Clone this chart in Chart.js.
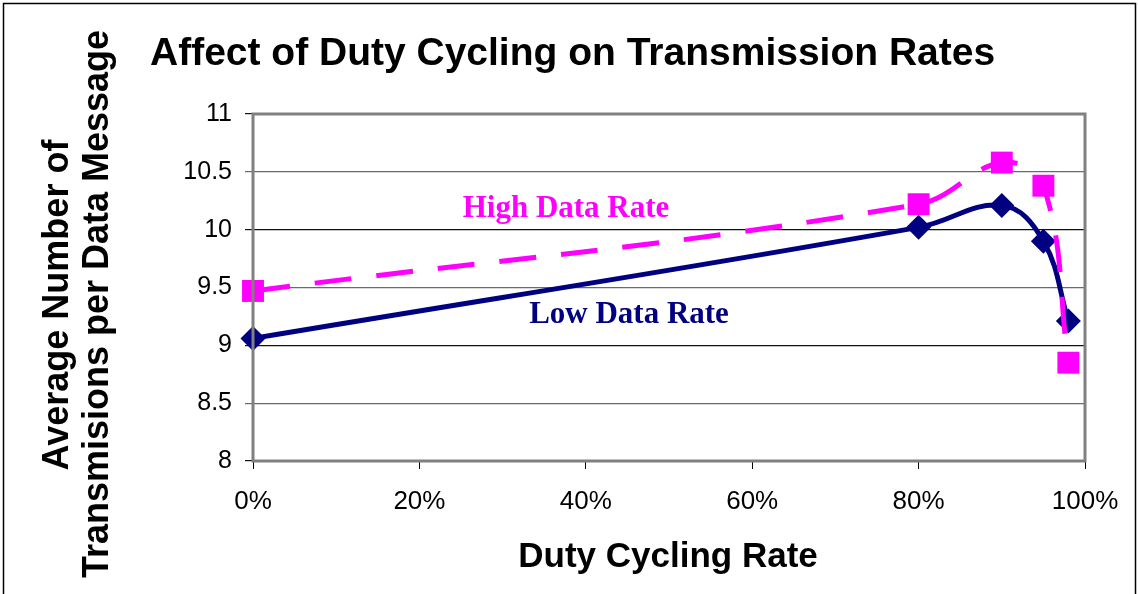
<!DOCTYPE html>
<html>
<head>
<meta charset="utf-8">
<script src="https://cdn.jsdelivr.net/npm/chart.js@4/dist/chart.umd.min.js"></script>
<style>
  html, body { margin: 0; padding: 0; background: #fff; }
  #wrap { width: 1138px; height: 594px; }
</style>
</head>
<body>
<div id="wrap"><canvas id="dutyChart" width="1138" height="594"></canvas></div>
<script>
// duty cycling rate (fraction), and average transmissions per data message
const dutyRates = [0, 0.80, 0.90, 0.95, 0.98];
const lowRate = [9.06, 10.02, 10.21, 9.90, 9.21];
const highRate = [9.47, 10.22, 10.58, 10.38, 8.85];
const xTicks = [0, 0.2, 0.4, 0.6, 0.8, 1.0];
const yTicks = [8, 8.5, 9, 9.5, 10, 10.5, 11];

const sans = '"Liberation Sans", Arial, sans-serif';
const serif = '"Liberation Serif", "Times New Roman", serif';

// texts and frame drawn by hand
const textPlugin = {
  id: 'texts',
  beforeDraw(chart) {
    const c = chart.ctx;
    c.save();
    c.strokeStyle = '#000';
    c.lineWidth = 1.5;
    c.beginPath();
    c.moveTo(3.5, 600);
    c.lineTo(3.5, 3.5);
    c.lineTo(1135.5, 3.5);
    c.lineTo(1135.5, 600);
    c.stroke();
    c.restore();
  },
  afterDatasetsDraw(chart) {
    const c = chart.ctx;
    const a = chart.chartArea;
    c.save();
    // plot border
    c.strokeStyle = '#808080';
    c.lineWidth = 3;
    c.strokeRect(a.left, a.top, a.right - a.left, a.bottom - a.top);

    c.fillStyle = '#000';
    c.textBaseline = 'middle';
    c.font = 'bold 39px ' + sans;
    c.textAlign = 'left';
    c.fillText('Affect of Duty Cycling on Transmission Rates', 150, 54);

    c.font = 'bold 35px ' + sans;
    c.textAlign = 'center';
    c.fillText('Duty Cycling Rate', 668, 557);

    c.font = 'bold 36px ' + sans;
    c.save();
    c.translate(58, 305);
    c.rotate(-Math.PI / 2);
    c.fillText('Average Number of', 0, 0);
    c.restore();
    c.save();
    c.translate(98, 304);
    c.rotate(-Math.PI / 2);
    c.fillText('Transmisions per Data Message', 0, 0);
    c.restore();

    c.font = 'bold 31px ' + serif;
    c.fillStyle = '#FF00FF';
    c.fillText('High Data Rate', 566, 209);
    c.fillStyle = '#000080';
    c.fillText('Low Data Rate', 629, 315);
    c.restore();
  }
};

const ctx = document.getElementById('dutyChart').getContext('2d');
const dutyChart = new Chart(ctx, {
  type: 'line',
  data: {
    datasets: [
      {
        label: 'High Data Rate',
        data: dutyRates.map((x, i) => ({ x: x, y: highRate[i] })),
        borderColor: '#FF00FF',
        backgroundColor: '#FF00FF',
        borderWidth: 5,
        borderDash: [37, 25],
        tension: 0.4,
        pointStyle: 'rect',
        pointRadius: 15.5,
        pointBorderWidth: 0,
        clip: false
      },
      {
        label: 'Low Data Rate',
        data: dutyRates.map((x, i) => ({ x: x, y: lowRate[i] })),
        borderColor: '#000080',
        backgroundColor: '#000080',
        borderWidth: 5,
        tension: 0.4,
        pointStyle: 'rectRot',
        pointRadius: 12.5,
        pointBorderWidth: 0,
        clip: false
      }
    ]
  },
  options: {
    responsive: false,
    animation: false,
    layout: { padding: { top: 114, right: 53, left: 0, bottom: 0 } },
    plugins: { legend: { display: false }, tooltip: { enabled: false } },
    scales: {
      x: {
        type: 'linear',
        min: 0,
        max: 1,
        afterFit(scale) { scale.height = 133; },
        afterBuildTicks(scale) { scale.ticks = xTicks.map(v => ({ value: v })); },
        border: { display: false },
        grid: { drawOnChartArea: false, drawTicks: true, tickLength: 8, color: '#000', lineWidth: 1 },
        ticks: {
          color: '#000',
          font: { family: sans, size: 26 },
          padding: 17,
          maxRotation: 0,
          callback: v => Math.round(v * 100) + '%'
        }
      },
      y: {
        min: 8,
        max: 11,
        afterFit(scale) { scale.width = 253; },
        afterBuildTicks(scale) { scale.ticks = yTicks.map(v => ({ value: v })); },
        border: { display: false },
        grid: {
          drawTicks: true,
          tickLength: 8,
          lineWidth: 1.2,
          color: c => (c.tick && c.tick.value % 1 === 0) ? '#111' : '#6a6a6a'
        },
        ticks: {
          color: '#000',
          font: { family: sans, size: 25 },
          padding: 13,
          callback: v => String(v)
        }
      }
    }
  },
  plugins: [textPlugin]
});
</script>
</body>
</html>
